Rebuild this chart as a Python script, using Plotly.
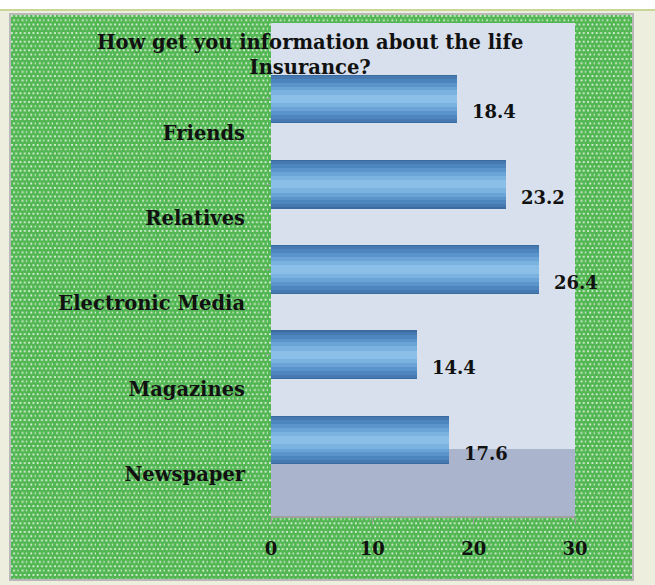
import base64
import plotly.graph_objects as go

# ---- data ----
categories = ["Newspaper", "Magazines", "Electronic Media", "Relatives", "Friends"]
values = [17.6, 14.4, 26.4, 23.2, 18.4]
x_ticks = [0, 10, 20, 30]
title_text = "How get you information about the life<br>Insurance?"

positions = list(range(len(categories)))

FONT = "DejaVu Serif"

# ---- dotted green background (pattern image) ----
svg = (
    '<svg xmlns="http://www.w3.org/2000/svg" width="623" height="566">'
    '<defs><pattern id="p" width="8.6" height="8.6" patternUnits="userSpaceOnUse">'
    '<rect width="8.6" height="8.6" fill="#52b752"/>'
    '<rect x="1" y="1" width="1.8" height="1.8" fill="#e0f2e0"/>'
    '<rect x="5.3" y="1" width="1.8" height="1.8" fill="#e0f2e0"/>'
    '<rect x="3.15" y="5.3" width="1.8" height="1.8" fill="#e0f2e0"/>'
    '<rect x="7.45" y="5.3" width="1.8" height="1.8" fill="#e0f2e0"/>'
    '</pattern></defs>'
    '<rect width="623" height="566" fill="url(#p)"/></svg>'
)
bg_src = "data:image/svg+xml;base64," + base64.b64encode(svg.encode()).decode()

W, H = 655, 585
L, R, T, B = 271, 80, 23, 69
PW, PH = W - L - R, H - T - B

fig = go.Figure()

# stepped gradient bars (outer dark -> inner light)
layers = [
    (0.57, "#3a6c9f"),
    (0.54, "#4579b0"),
    (0.47, "#4d86bf"),
    (0.38, "#5a94cb"),
    (0.29, "#6aa4d6"),
    (0.20, "#7bb3e0"),
    (0.10, "#8bbfe8"),
]
for w, c in layers:
    fig.add_trace(go.Bar(
        x=values, y=positions, orientation="h",
        width=w, marker=dict(color=c, line=dict(width=0)),
        hoverinfo="skip", showlegend=False,
    ))

# value labels
for p, v in zip(positions, values):
    fig.add_annotation(
        x=v, y=p, xref="x", yref="y",
        text=f"<b>{v:.1f}</b>", showarrow=False,
        xanchor="left", yanchor="middle", xshift=13, yshift=-13,
        font=dict(family=FONT, size=18, color="#111111"),
    )

fig.update_layout(
    width=W, height=H,
    margin=dict(l=L, r=R, t=T, b=B),
    paper_bgcolor="#eeeedf",
    plot_bgcolor="#d7e0ec",
    barmode="overlay",
    bargap=0,
    showlegend=False,
    images=[dict(
        source=bg_src, xref="paper", yref="paper",
        x=(10 - L) / PW, y=1 + (T - 14) / PH,
        sizex=623 / PW, sizey=566 / PH,
        sizing="stretch", layer="below", xanchor="left", yanchor="top",
    )],
    shapes=[
        dict(type="rect", xref="paper", yref="paper",
             x0=-L / PW, x1=1 + R / PW,
             y0=1 + (T - 10) / PH, y1=1 + T / PH,
             fillcolor="#ffffff", line=dict(width=0), layer="below"),
        dict(type="line", xref="paper", yref="paper",
             x0=-L / PW, x1=1 + R / PW,
             y0=1 + (T - 10) / PH, y1=1 + (T - 10) / PH,
             line=dict(color="#c9d696", width=2), layer="below"),
        dict(type="rect", xref="paper", yref="paper",
             x0=(10 - L) / PW, x1=(633 - L) / PW,
             y0=1 - (580 - T) / PH, y1=1 + (T - 14) / PH,
             line=dict(color="#b8b8b8", width=2), fillcolor="rgba(0,0,0,0)", layer="above"),
        dict(type="rect", xref="x domain", yref="y domain",
             x0=0, x1=1, y0=0, y1=1,
             fillcolor="#d7e0ec", line=dict(width=0), layer="below"),
        dict(type="rect", xref="x domain", yref="y domain",
             x0=0, x1=1, y0=0, y1=(516 - 449) / PH,
             fillcolor="#aab4cc", line=dict(width=0), layer="below"),
    ],
)

fig.update_xaxes(
    range=[0, 30], tickvals=x_ticks, ticktext=[f"<b>{t}</b>" for t in x_ticks],
    showgrid=False, zeroline=False,
    showline=True, linecolor="#a0a0a0", linewidth=1.5,
    ticks="outside", ticklen=6, tickcolor="#a0a0a0",
    tickfont=dict(family=FONT, size=18, color="#111111"),
    ticklabelstandoff=10,
)
fig.update_yaxes(
    range=[-0.89, 4.89], tickvals=positions,
    ticktext=[f"<b>{c}</b>" for c in categories],
    showgrid=False, zeroline=False, showline=False,
    ticks="outside", ticklen=4, tickcolor="#a0a0a0",
    tickfont=dict(family=FONT, size=19.5, color="#111111"),
    ticklabelshift=34, ticklabelstandoff=17,
)

fig.add_annotation(
    xref="x domain", yref="y domain",
    x=(310 - L) / PW, y=1 + (T - 29) / PH,
    text="<b>" + title_text + "</b>", showarrow=False,
    xanchor="center", yanchor="top", align="center",
    font=dict(family=FONT, size=19.5, color="#111111"),
)

fig.write_html("out.html")
